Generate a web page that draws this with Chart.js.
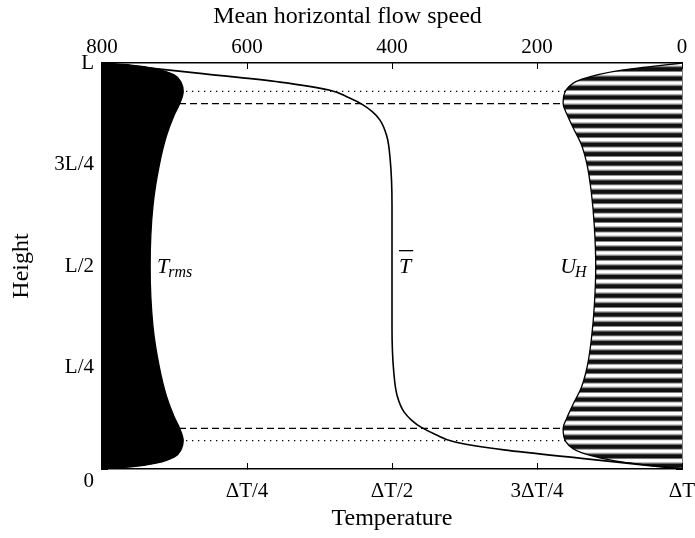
<!DOCTYPE html>
<html>
<head>
<meta charset="utf-8">
<script src="https://cdn.jsdelivr.net/npm/chart.js@4.4.0/dist/chart.umd.min.js"></script>
<style>
  body { margin: 0; background: #fff; }
</style>
</head>
<body>
<canvas id="myChart" width="695" height="538"></canvas>
<script>
// heights are in units of L, temperatures in units of dT, speeds as on the top axis
var rmsHeights = [0, 0.005, 0.015, 0.03, 0.05, 0.07, 0.1, 0.13, 0.18, 0.25, 0.35, 0.5, 0.65, 0.75, 0.82, 0.87, 0.9, 0.93, 0.95, 0.97, 0.985, 0.995, 1];
var rmsTemp = [0, 0.05, 0.095, 0.125, 0.137, 0.14, 0.134, 0.124, 0.111, 0.099, 0.088, 0.083, 0.088, 0.099, 0.111, 0.124, 0.134, 0.14, 0.137, 0.125, 0.095, 0.05, 0];

var meanHeights = [0, 0.025, 0.047, 0.067, 0.085, 0.103, 0.12, 0.14, 0.18, 0.24, 0.35, 0.5, 0.65, 0.76, 0.82, 0.86, 0.88, 0.897, 0.915, 0.933, 0.953, 0.975, 1];
var meanTemp = [1, 0.835, 0.693, 0.607, 0.575, 0.55, 0.534, 0.521, 0.509, 0.503, 0.5, 0.5, 0.5, 0.497, 0.491, 0.479, 0.466, 0.45, 0.425, 0.393, 0.307, 0.165, 0];

var flowHeights = [0, 0.017, 0.04, 0.067, 0.1, 0.125, 0.16, 0.2, 0.25, 0.32, 0.4, 0.5, 0.6, 0.68, 0.75, 0.8, 0.84, 0.875, 0.9, 0.933, 0.96, 0.983, 1];
var flowSpeed = [0, 81, 138, 160, 164, 159, 150, 139, 131, 125, 121, 119, 121, 125, 131, 139, 150, 159, 164, 160, 138, 81, 0];

var dottedHeights = [0.07, 0.93];
var dashedHeights = [0.1, 0.9];

var tempTickLabels = { 0: '', 0.25: 'ΔT/4', 0.5: 'ΔT/2', 0.75: '3ΔT/4', 1: 'ΔT' };
var heightTickLabels = { 0: ['', '0'], 0.25: 'L/4', 0.5: 'L/2', 0.75: '3L/4', 1: 'L' };

var serif = '"Liberation Serif", "DejaVu Serif", serif';
var stripeCount = 43;

function pairs(xs, ys) {
  var out = [];
  for (var i = 0; i < xs.length; i++) out.push({ x: xs[i], y: ys[i] });
  return out;
}

function stripes(context) {
  var area = context.chart.chartArea;
  if (!area) return '#000';
  var g = context.chart.ctx.createLinearGradient(0, area.top, 0, area.bottom);
  var w = 1 / stripeCount;
  for (var i = 0; i < stripeCount; i++) {
    var s = i * w;
    g.addColorStop(s, '#fff');
    g.addColorStop(s + w * 0.22, '#fff');
    g.addColorStop(s + w * 0.4, '#777');
    g.addColorStop(s + w * 0.5, '#111');
    g.addColorStop(s + w * 0.8, '#111');
    g.addColorStop(s + w * 0.92, '#999');
  }
  g.addColorStop(1, '#fff');
  return g;
}

function layerLine(h, dash) {
  return {
    data: [{ x: 0, y: h }, { x: 1, y: h }],
    xAxisID: 'x',
    borderColor: '#000',
    borderWidth: 1.2,
    borderDash: dash,
    pointRadius: 0,
    fill: false,
    order: 5
  };
}

var curveLabels = {
  id: 'curveLabels',
  afterDatasetsDraw: function(chart) {
    var ctx = chart.ctx;
    var sx = chart.scales.x, sx2 = chart.scales.x2, sy = chart.scales.y;
    var ym = sy.getPixelForValue(0.5) + 1;
    ctx.save();
    ctx.fillStyle = '#000';
    ctx.textBaseline = 'middle';
    ctx.textAlign = 'left';

    // T_rms
    var px = sx.getPixelForValue(0.095);
    ctx.font = 'italic 22px ' + serif;
    ctx.fillText('T', px, ym);
    var tw = ctx.measureText('T').width;
    ctx.font = 'italic 16px ' + serif;
    ctx.fillText('rms', px + tw - 1, ym + 6);

    // mean T with overbar
    px = sx.getPixelForValue(0.512);
    ctx.font = 'italic 22px ' + serif;
    ctx.fillText('T', px, ym);
    tw = ctx.measureText('T').width;
    ctx.fillRect(px, ym - 17, tw + 2, 1.3);

    // U_H
    px = sx2.getPixelForValue(168);
    ctx.font = 'italic 22px ' + serif;
    ctx.fillText('U', px, ym);
    tw = ctx.measureText('U').width;
    ctx.font = 'italic 16px ' + serif;
    ctx.fillText('H', px + tw - 1, ym + 6);
    ctx.restore();
  }
};

var tickFont = { family: serif, size: 21 };
var titleFont = { family: serif, size: 24, lineHeight: 1.2 };
var grid = { drawOnChartArea: false, tickLength: -6, color: '#000', lineWidth: 1 };
var border = { color: '#000', width: 1.5 };

function noOverhang(s) {
  s.paddingLeft = 0;
  s.paddingRight = 0;
  s.paddingTop = 0;
  s.paddingBottom = 0;
}

var ctx = document.getElementById('myChart').getContext('2d');
var profileChart = new Chart(ctx, {
  type: 'line',
  data: {
    datasets: [
      {
        label: 'T_rms',
        data: pairs(rmsTemp, rmsHeights),
        xAxisID: 'x',
        borderColor: '#000',
        backgroundColor: '#000',
        borderWidth: 1.3,
        pointRadius: 0,
        cubicInterpolationMode: 'monotone',
        fill: 'origin',
        order: 2
      },
      {
        label: 'U_H',
        data: pairs(flowSpeed, flowHeights),
        xAxisID: 'x2',
        borderColor: '#000',
        backgroundColor: stripes,
        borderWidth: 1.3,
        pointRadius: 0,
        cubicInterpolationMode: 'monotone',
        fill: 'origin',
        order: 2
      },
      {
        label: 'T mean',
        data: pairs(meanTemp, meanHeights),
        xAxisID: 'x',
        borderColor: '#000',
        borderWidth: 1.6,
        pointRadius: 0,
        cubicInterpolationMode: 'monotone',
        fill: false,
        order: 0
      },
      layerLine(dottedHeights[0], [1.3, 4.7]),
      layerLine(dottedHeights[1], [1.3, 4.7]),
      layerLine(dashedHeights[0], [7, 4]),
      layerLine(dashedHeights[1], [7, 4])
    ]
  },
  options: {
    responsive: false,
    animation: false,
    indexAxis: 'y',
    layout: { padding: 0 },
    plugins: {
      legend: { display: false },
      tooltip: { enabled: false },
      title: {
        display: true,
        text: 'Mean horizontal flow speed',
        color: '#000',
        font: { family: serif, size: 24, weight: 'normal', lineHeight: 1.2 },
        padding: { top: 2.6, bottom: 0 }
      }
    },
    scales: {
      x: {
        type: 'linear', position: 'bottom', min: 0, max: 1, z: 1,
        grid: grid, border: border,
        ticks: {
          stepSize: 0.25, color: '#000', font: tickFont, padding: 16, maxRotation: 0,
          callback: function(v) { return tempTickLabels[v]; }
        },
        title: { display: true, text: 'Temperature', color: '#000', font: titleFont, padding: { top: 0, bottom: 4.6 } },
        afterFit: function(s) { s.height = 69; noOverhang(s); }
      },
      x2: {
        type: 'linear', position: 'top', min: 0, max: 800, reverse: true, z: 1,
        grid: grid, border: border,
        ticks: { stepSize: 200, color: '#000', font: tickFont, padding: 9.4, maxRotation: 0 },
        afterFit: function(s) { s.height = 31.6; noOverhang(s); }
      },
      y: {
        type: 'linear', position: 'left', min: 0, max: 1, z: 1,
        grid: grid, border: border,
        ticks: {
          stepSize: 0.25, color: '#000', font: tickFont, padding: 14,
          callback: function(v) { return heightTickLabels[v]; }
        },
        title: { display: true, text: 'Height', color: '#000', font: titleFont, padding: { top: 7.6, bottom: 0 } },
        afterFit: function(s) { s.width = 102; noOverhang(s); }
      },
      y2: {
        type: 'linear', position: 'right', min: 0, max: 1, z: 1,
        grid: grid, border: border,
        ticks: { stepSize: 0.25, display: false },
        afterFit: function(s) { s.width = 13; noOverhang(s); }
      }
    }
  },
  plugins: [curveLabels]
});
</script>
</body>
</html>
